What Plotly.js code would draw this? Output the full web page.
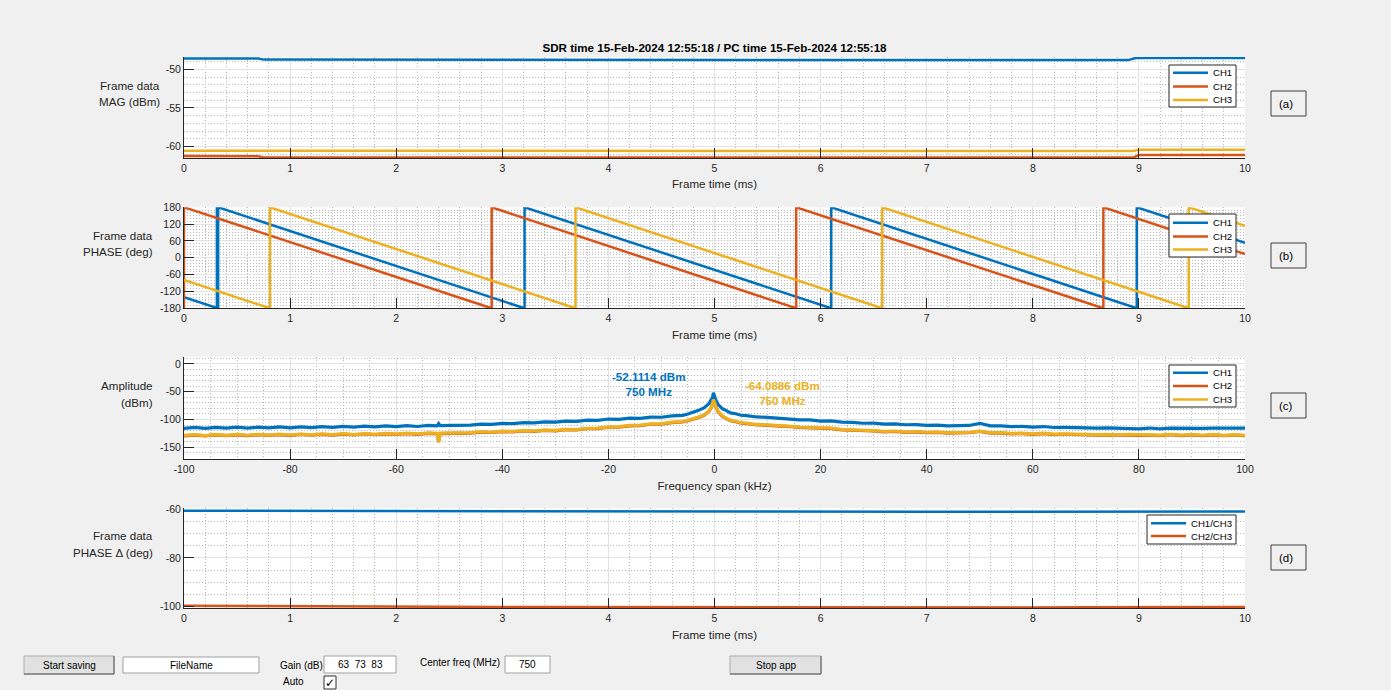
<!DOCTYPE html>
<html>
<head>
<meta charset="utf-8">
<script src="https://cdn.plot.ly/plotly-3.0.1.min.js"></script>
<style>html,body{margin:0;padding:0;background:#f0f0f0;}#chart{width:1391px;height:690px;}</style>
</head>
<body>
<div id="chart"></div>
<script>
// ---------------- DATA ----------------
const titleText = 'SDR time 15-Feb-2024 12:55:18 / PC time 15-Feb-2024 12:55:18';
const channelNames = ['CH1', 'CH2', 'CH3'];
const ratioNames = ['CH1/CH3', 'CH2/CH3'];
const colors = ['#0072BD', '#D95319', '#EDB120'];

// tick values / labels
const timeTicks = [0, 1, 2, 3, 4, 5, 6, 7, 8, 9, 10];
const timeTickText = ['0', '1', '2', '3', '4', '5', '6', '7', '8', '9', '10'];
const magTicks = [-60, -55, -50];
const magTickText = ['-60', '-55', '-50'];
const phaseTicks = [-180, -120, -60, 0, 60, 120, 180];
const phaseTickText = ['-180', '-120', '-60', '0', '60', '120', '180'];
const freqTicks = [-100, -80, -60, -40, -20, 0, 20, 40, 60, 80, 100];
const freqTickText = ['-100', '-80', '-60', '-40', '-20', '0', '20', '40', '60', '80', '100'];
const ampTicks = [-150, -100, -50, 0];
const ampTickText = ['-150', '-100', '-50', '0'];
const deltaTicks = [-100, -80, -60];
const deltaTickText = ['-100', '-80', '-60'];

// (a) magnitude, dBm
const magT1 = [0, 0.7, 0.75, 2, 3, 4, 5, 6, 7, 8, 8.9, 8.97, 10];
const magV1 = [-48.58, -48.6, -48.74, -48.76, -48.78, -48.77, -48.78, -48.76, -48.75, -48.77, -48.8, -48.52, -48.52];
const magT2 = [0, 0.7, 0.75, 3, 5, 7, 8.95, 9.0, 10];
const magV2 = [-61.25, -61.27, -61.43, -61.44, -61.45, -61.43, -61.42, -61.12, -61.12];
const magT3 = [0, 3, 6, 8.95, 9.0, 10];
const magV3 = [-60.56, -60.6, -60.6, -60.6, -60.44, -60.44];

// (b) phase, deg
const phT1 = [0, 0.31, 0.31, 0.316, 0.316, 0.322, 0.322, 3.21, 3.21, 6.10, 6.10, 8.98, 8.98, 10];
const phV1 = [-140, -179, 180, 179, -180, -180, 180, -180, 180, -180, 180, -180, 180, 53];
const phT2 = [0, 0, 2.90, 2.90, 5.77, 5.77, 8.665, 8.665, 10];
const phV2 = [-180, 180, -180, 180, -180, 180, -180, 180, 13.5];
const phT3 = [0, 0.81, 0.81, 3.69, 3.69, 6.58, 6.58, 9.47, 9.47, 10];
const phV3 = [-79, -180, 180, -180, 180, -180, 180, -180, 180, 114];

// (c) spectrum, kHz / dBm
const freqKHz = [-100,-98,-96,-94,-92,-90,-88,-86,-84,-82,-80,-78,-76,-74,-72,-70,-68,-66,-64,-62,-60,-58,-56,-54,
  -52.3,-52,-51.7,
  -50,-48,-46,-44,-42,-40,-38,-36,-34,-32,-30,-28,-26,-24,-22,-20,-18,-16,-14,-12,-10,
  -8,-6,-5,-4,-3,-2,-1.5,-1,-0.7,-0.4,-0.2,
  0,0.3,0.7,1,1.5,2,3,4,5,6,8,
  10,12,14,16,18,20,22,24,26,28,30,32,34,36,38,40,42,44,46,48,50,52,54,56,58,60,62,64,66,68,70,72,74,76,78,80,82,84,86,88,90,92,94,96,98,100];
const spec1 = [-115.8,-114.2,-115.9,-114.1,-115.6,-113.8,-115.4,-113.7,-115.1,-113.4,-114.9,-113.1,-114.6,-112.7,-114.1,-112.3,-113.7,-111.9,-113.3,-111.5,-112.9,-111.1,-112.5,-110.7,
  -111.4,-107.2,-111.0,
  -111.0,-110.2,-110.1,-108.2,-108.8,-107.0,-107.3,-105.6,-106.0,-104.3,-104.7,-102.8,-103.3,-101.0,-101.5,-99.1,-99.6,-97.4,-97.8,-95.6,-95.9,
  -93.4,-92.4,-90.2,-87.2,-83.5,-79.0,-74.8,-70.9,-65.6,-60.9,-52.1,
  -58.4,-66.1,-73.2,-76.2,-80.7,-82.8,-88.0,-89.7,-92.3,-93.0,-95.4,
  -96.1,-97.9,-98.6,-100.5,-100.7,-102.9,-102.5,-104.8,-105.1,-106.7,-106.6,-108.1,-108.0,-109.4,-109.3,-110.6,-110.1,-111.4,-110.8,-110.7,-106.8,-111.4,-111.4,-112.7,-112.3,-113.7,-112.6,-114.3,-114.0,-114.8,-114.4,-115.6,-115.1,-115.8,-115.5,-116.7,-115.3,-116.9,-115.5,-116.1,-115.6,-115.9,-115.3,-115.7,-115.1,-115.6];
const spec2 = [-129.3,-128.0,-129.4,-127.7,-129.1,-127.5,-128.9,-127.4,-128.6,-127.1,-128.5,-126.8,-128.3,-126.6,-127.9,-126.4,-127.7,-126.0,-127.3,-125.7,-126.8,-125.4,-126.6,-125.0,
  -125.6,-139.0,-125.2,
  -125.3,-124.6,-124.4,-122.8,-123.3,-121.7,-122.2,-120.6,-121.2,-119.6,-120.3,-118.4,-118.7,-116.6,-116.3,-113.9,-113.7,-111.4,-110.9,-108.5,-108.1,
  -105.6,-104.5,-102.2,-99.8,-96.1,-93.0,-88.8,-84.8,-79.9,-74.2,-65.0,
  -71.4,-78.4,-86.4,-89.4,-94.4,-97.0,-102.0,-104.0,-106.6,-107.3,-109.8,
  -110.4,-112.2,-112.6,-114.2,-114.5,-116.1,-116.3,-118.7,-119.1,-120.9,-120.6,-122.1,-121.5,-123.2,-122.3,-123.7,-123.2,-124.3,-123.9,-123.8,-121.6,-124.4,-124.5,-125.8,-125.3,-126.6,-125.4,-127.1,-126.5,-127.2,-126.8,-128.1,-127.5,-128.0,-127.6,-128.4,-127.9,-128.8,-127.3,-128.8,-127.7,-129.1,-127.6,-129.2,-127.8,-129.1];
const spec3 = [-128.6,-127.1,-128.8,-126.9,-128.4,-126.7,-128.3,-126.5,-128.0,-126.3,-127.8,-126.1,-127.6,-125.8,-127.3,-125.5,-127.0,-125.2,-126.6,-124.9,-126.1,-124.5,-125.8,-124.1,
  -124.8,-141.5,-124.4,
  -124.5,-123.9,-123.6,-122.0,-122.5,-121.0,-121.3,-119.9,-120.4,-118.9,-119.5,-117.6,-118.0,-115.8,-115.5,-113.1,-112.9,-110.5,-110.1,-107.7,-107.3,
  -104.8,-103.7,-101.4,-99.0,-95.3,-92.2,-88.0,-84.0,-79.1,-73.4,-64.1,
  -70.6,-77.6,-85.6,-88.6,-93.6,-96.2,-101.2,-103.2,-105.8,-106.5,-109.0,
  -109.6,-111.4,-111.8,-113.4,-113.7,-115.3,-115.5,-117.9,-118.3,-120.1,-119.8,-121.3,-120.7,-122.4,-121.5,-122.9,-122.4,-123.5,-123.1,-123.0,-120.8,-123.6,-123.7,-125.0,-124.5,-125.8,-124.6,-126.3,-125.7,-126.4,-126.0,-127.3,-126.7,-127.8,-126.8,-127.6,-127.1,-128.0,-126.5,-128.0,-126.9,-128.3,-126.8,-128.4,-127.0,-128.3];
const peakLabels = ['-52.1114 dBm', '-64.0886 dBm'];
const peakFreqLabel = '750 MHz';

// (d) phase difference, deg
const dT = [0,0.5,1,1.5,2,2.5,3,3.5,4,4.5,5,5.5,6,6.5,7,7.5,8,8.5,9,9.5,10];
const dV1 = [-60.7,-60.75,-60.8,-60.85,-60.9,-60.95,-61.0,-60.98,-61.0,-61.05,-61.1,-61.15,-61.2,-61.15,-61.1,-61.12,-61.1,-61.05,-61.0,-61.02,-61.0];
const dV2 = [-99.6,-99.7,-99.9,-100.0,-100.0,-100.05,-100.1,-100.1,-100.15,-100.1,-100.2,-100.2,-100.25,-100.3,-100.3,-100.35,-100.3,-100.2,-100.1,-100.05,-100.1];

// ---------------- LAYOUT HELPERS ----------------
const W = 1391, H = 690;
const px = x => x / W;
const py = y => 1 - y / H;
const FONT = 'Liberation Sans, Arial, Helvetica, sans-serif';
const TXT = '#262626';
const MINOR = {showgrid: true, gridcolor: '#b8b8b8', griddash: '1px,2px', gridwidth: 1, ticks: '', tickmode: 'linear'};

function axisBase(range, vals, txt, minor, minor0) {
  return {
    range: range, tickmode: 'array', tickvals: vals, ticktext: txt,
    ticks: 'inside', ticklen: 10, tickcolor: TXT, tickwidth: 1,
    showline: true, linecolor: TXT, linewidth: 1, zeroline: false,
    showgrid: true, gridcolor: '#e2e2e2', gridwidth: 1, layer: 'above traces',
    minor: Object.assign({}, MINOR, {dtick: minor, tick0: minor0}),
    tickfont: {family: FONT, size: 10.5, color: TXT},
    fixedrange: true
  };
}
function xax(anchor, range, vals, txt, minor, title, standoff) {
  return Object.assign(axisBase(range, vals, txt, minor, range[0]), {
    domain: [px(184), px(1245)], anchor: anchor,
    title: {text: title, font: {family: FONT, size: 11.6, color: TXT}, standoff: standoff}
  });
}
function yax(anchor, dom, range, vals, txt, minor, minor0) {
  return Object.assign(axisBase(range, vals, txt, minor, minor0), {domain: dom, anchor: anchor});
}

function line(x, y, i, xa, ya, name, w) {
  return {x: x, y: y, type: 'scatter', mode: 'lines', name: name, xaxis: xa, yaxis: ya,
    line: {color: colors[i], width: w || 2.5}, showlegend: false, hoverinfo: 'skip'};
}

const traces = [
  line(magT1, magV1, 0, 'x', 'y', channelNames[0]),
  line(magT2, magV2, 1, 'x', 'y', channelNames[1]),
  line(magT3, magV3, 2, 'x', 'y', channelNames[2]),
  line(phT1, phV1, 0, 'x2', 'y2', channelNames[0]),
  line(phT2, phV2, 1, 'x2', 'y2', channelNames[1]),
  line(phT3, phV3, 2, 'x2', 'y2', channelNames[2]),
  line(freqKHz, spec1, 0, 'x3', 'y3', channelNames[0], 3.2),
  line(freqKHz, spec2, 1, 'x3', 'y3', channelNames[1], 3.2),
  line(freqKHz, spec3, 2, 'x3', 'y3', channelNames[2], 3.2),
  line(dT, dV1, 0, 'x4', 'y4', ratioNames[0]),
  line(dT, dV2, 1, 'x4', 'y4', ratioNames[1])
];

const shapes = [];
const annotations = [];

function text(t, x, y, opt) {
  opt = opt || {};
  annotations.push(Object.assign({
    text: t, xref: 'paper', yref: 'paper', x: px(x), y: py(y),
    xanchor: opt.xanchor || 'center', yanchor: 'middle', showarrow: false,
    align: opt.align || 'center',
    font: {family: opt.family || FONT, size: opt.size || 11.6, color: opt.color || TXT}
  }));
}
function rect(x0, y0, x1, y1, fill, lc, lw) {
  shapes.push({type: 'rect', xref: 'paper', yref: 'paper', x0: px(x0), x1: px(x1), y0: py(y1), y1: py(y0),
    fillcolor: fill, line: {color: lc, width: lw === undefined ? 1 : lw}, layer: 'above'});
}
function seg(x0, y0, x1, y1, c, w) {
  shapes.push({type: 'line', xref: 'paper', yref: 'paper', x0: px(x0), x1: px(x1), y0: py(y0), y1: py(y1),
    line: {color: c, width: w}, layer: 'above'});
}

// legends (MATLAB-style boxes)
function legend(box, names, ys, lx0, lx1, tx) {
  rect(box[0], box[1], box[2], box[3], '#ffffff', '#262626', 1);
  names.forEach((n, i) => {
    seg(lx0, ys[i], lx1, ys[i], colors[i], 2.6);
    text(n, tx, ys[i], {xanchor: 'left', align: 'left', size: 9.6, color: '#000000'});
  });
}
legend([1169, 65, 1236, 107], channelNames, [72.7, 86.5, 100], 1173, 1208, 1211);
legend([1169, 214, 1236, 257], channelNames, [222.7, 236.5, 249.5], 1173, 1208, 1211);
legend([1169, 365, 1236, 407], channelNames, [372.7, 386, 399.5], 1173, 1208, 1211);
legend([1147, 515, 1236, 544], ratioNames, [523.3, 536], 1151, 1186, 1189);

// panel tag boxes
[['(a)', 91, 116], ['(b)', 243, 268], ['(c)', 393, 418], ['(d)', 545, 570]].forEach(p => {
  rect(1271, p[1], 1306, p[2], 'rgba(0,0,0,0)', '#404040', 1);
  text(p[0], 1277, (p[1] + p[2]) / 2, {xanchor: 'left', size: 11.5, color: '#000000'});
});

// horizontal y-axis labels
text('Frame data', 162, 85.7, {xanchor: 'right'});
text('MAG (dBm)', 162, 101.7, {xanchor: 'right'});
text('Frame data', 155, 235.7, {xanchor: 'right'});
text('PHASE (deg)', 155, 251.7, {xanchor: 'right'});
text('Amplitude', 155, 386, {xanchor: 'right'});
text('(dBm)', 155, 402, {xanchor: 'right'});
text('Frame data', 155, 535.7, {xanchor: 'right'});
text('PHASE \u0394 (deg)', 155, 552.3, {xanchor: 'right'});

// peak texts in spectrum
annotations.push({text: '<b>' + peakLabels[0] + '</b><br><b>' + peakFreqLabel + '</b>', xref: 'x3', yref: 'y3',
  x: -12.5, y: -36, showarrow: false, xanchor: 'center', yanchor: 'middle',
  font: {family: FONT, size: 11.6, color: colors[0]}});
annotations.push({text: '<b>' + peakLabels[1] + '</b><br><b>' + peakFreqLabel + '</b>', xref: 'x3', yref: 'y3',
  x: 12.86, y: -52.8, showarrow: false, xanchor: 'center', yanchor: 'middle',
  font: {family: FONT, size: 11.6, color: colors[2]}});

// bottom controls
function button(x0, y0, x1, y1, label) {
  rect(x0, y0, x1, y1, '#e1e1e1', '#adadad', 1);
  seg(x0, y1, x1, y1, '#5a5a5a', 1);
  seg(x1, y0, x1, y1, '#5a5a5a', 1);
  text(label, (x0 + x1) / 2, (y0 + y1) / 2, {size: 10, color: '#000000'});
}
function edit(x0, y0, x1, y1, label) {
  rect(x0, y0, x1, y1, '#ffffff', '#a0a0a0', 1);
  text(label, (x0 + x1) / 2, (y0 + y1) / 2, {size: 10, color: '#000000'});
}
button(24, 656, 114, 674, 'Start saving');
edit(123, 657, 259, 673, 'FileName');
text('Gain (dB)', 301, 665.5, {size: 10, color: '#000000'});
edit(324, 656, 396, 673, '63&nbsp;&nbsp;73&nbsp;&nbsp;83');
text('Auto', 293.5, 681, {size: 10, color: '#000000'});
rect(324, 676, 336, 689, '#ffffff', '#333333', 1);
text('\u2713', 330, 682.5, {size: 12, color: '#000000', family: 'DejaVu Sans'});
text('Center freq (MHz)', 460, 662, {size: 10, color: '#000000'});
edit(505, 656, 550, 673, '750');
button(730, 656, 821, 674, 'Stop app');

const layout = {
  width: W, height: H,
  margin: {l: 0, r: 0, t: 0, b: 0},
  paper_bgcolor: '#f0f0f0', plot_bgcolor: '#ffffff',
  showlegend: false,
  title: {text: '<b>' + titleText + '</b>', font: {family: FONT, size: 11.6, color: '#000000'},
    x: px(714.5), xanchor: 'center', xref: 'paper', y: py(48), yref: 'paper', yanchor: 'middle'},
  xaxis: xax('y', [0, 10], timeTicks, timeTickText, 0.2, 'Frame time (ms)', 7),
  yaxis: yax('x', [py(158), py(57)], [-61.5, -48.4], magTicks, magTickText, 1, -60),
  xaxis2: xax('y2', [0, 10], timeTicks, timeTickText, 0.2, 'Frame time (ms)', 7),
  yaxis2: yax('x2', [py(308.3), py(207.3)], [-180, 180], phaseTicks, phaseTickText, 10, -180),
  xaxis3: xax('y3', [-100, 100], freqTicks, freqTickText, 5, 'Frequency span (kHz)', 8),
  yaxis3: yax('x3', [py(459), py(356.7)], [-171, 13], ampTicks, ampTickText, 10, -150),
  xaxis4: xax('y4', [0, 10], timeTicks, timeTickText, 0.2, 'Frame time (ms)', 7),
  yaxis4: yax('x4', [py(608.3), py(508.3)], [-100.66, -59.7], deltaTicks, deltaTickText, 5, -100),
  shapes: shapes,
  annotations: annotations
};

Plotly.newPlot('chart', traces, layout, {displayModeBar: false, staticPlot: true});
</script>
</body>
</html>
